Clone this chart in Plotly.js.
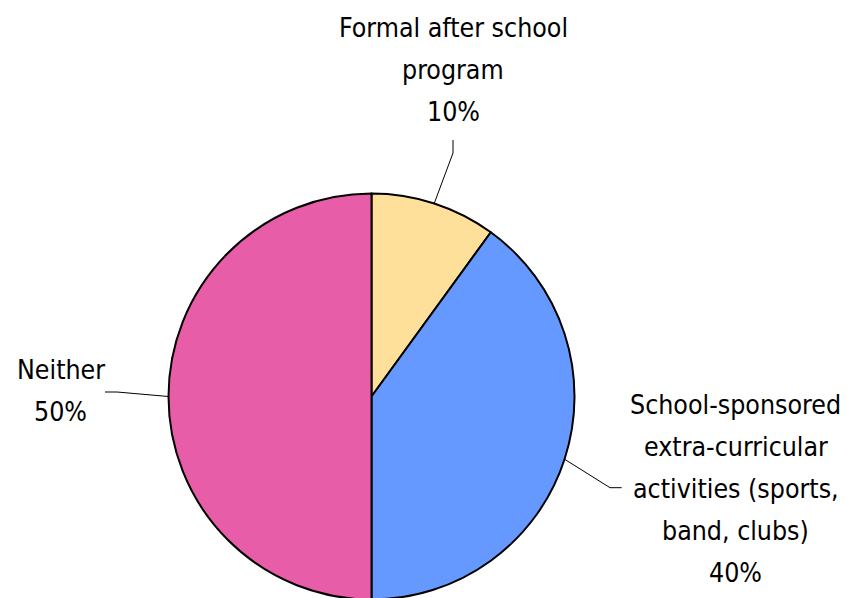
<!DOCTYPE html>
<html>
<head>
<meta charset="utf-8">
<script src="https://cdn.plot.ly/plotly-3.0.1.min.js"></script>
<style>
html, body { margin: 0; padding: 0; overflow: hidden; background: #fff; }
#chart { width: 865px; height: 600px; }
</style>
</head>
<body>
<div id="chart"></div>
<script>
// ---- data ----
const categories = ['Formal after school program', 'School-sponsored extra-curricular activities (sports, band, clubs)', 'Neither'];
const values = [10, 40, 50];
const labelLines = [
  ['Formal after school', 'program'],
  ['School-sponsored', 'extra-curricular', 'activities (sports,', 'band, clubs)'],
  ['Neither']
];

// ---- styles / layout ----
const sliceColors = ['#FFE09A', '#6699FF', '#E85DA8'];
const W = 865, H = 600;
const FONT = '"DejaVu Sans Condensed", "Liberation Sans Narrow", sans-serif';
const FS = 26.5;
const LINE_PITCH = 42;
const pie = { cx: 371.5, cy: 396.5, r: 203 };
const labelPos = [
  { cx: 453, base: 36.7 },
  { cx: 735.5, base: 413.3 },
  { cx: 60.5, base: 379 }
];
const leader = [
  { elbow: [453, 153], end: [453, 140] },
  { elbow: [610, 487.7], end: [621.7, 487.7] },
  { elbow: [117, 392], end: [105, 392] }
];

const px = x => x / W;
const py = y => 1 - y / H;

const total = values.reduce((a, b) => a + b, 0);

const trace = {
  type: 'pie',
  labels: categories,
  values: values,
  sort: false,
  direction: 'clockwise',
  rotation: 0,
  textinfo: 'none',
  hoverinfo: 'label+percent',
  marker: { colors: sliceColors, line: { color: '#000', width: 2 } },
  domain: {
    x: [px(pie.cx - pie.r), px(pie.cx + pie.r)],
    y: [(H - pie.cy - pie.r) / H, (H - pie.cy + pie.r) / H]
  },
  showlegend: false
};

const annotations = [];
const shapes = [];
let cum = 0;
values.forEach((v, i) => {
  const pct = Math.round(v / total * 100) + '%';
  const lines = labelLines[i].concat([pct]);
  lines.forEach((t, j) => {
    const base = labelPos[i].base + j * LINE_PITCH;
    annotations.push({
      xref: 'paper', yref: 'paper',
      x: px(labelPos[i].cx), y: py(base - 0.3465 * FS),
      xanchor: 'center', yanchor: 'middle',
      text: t, showarrow: false,
      font: { family: FONT, size: FS, color: '#000' }
    });
  });
  const a = (cum + v / 2) / total * 2 * Math.PI;
  cum += v;
  const sx = pie.cx + pie.r * Math.sin(a);
  const sy = pie.cy - pie.r * Math.cos(a);
  const L = leader[i];
  shapes.push({
    type: 'path', xref: 'paper', yref: 'paper',
    path: `M ${px(sx)} ${py(sy)} L ${px(L.elbow[0])} ${py(L.elbow[1])} L ${px(L.end[0])} ${py(L.end[1])}`,
    line: { color: '#000', width: 1 }
  });
});

const layout = {
  width: W, height: H,
  margin: { l: 0, r: 0, t: 0, b: 0 },
  paper_bgcolor: '#fff',
  showlegend: false,
  annotations: annotations,
  shapes: shapes
};

Plotly.newPlot('chart', [trace], layout, { displayModeBar: false, staticPlot: true });
</script>
</body>
</html>
